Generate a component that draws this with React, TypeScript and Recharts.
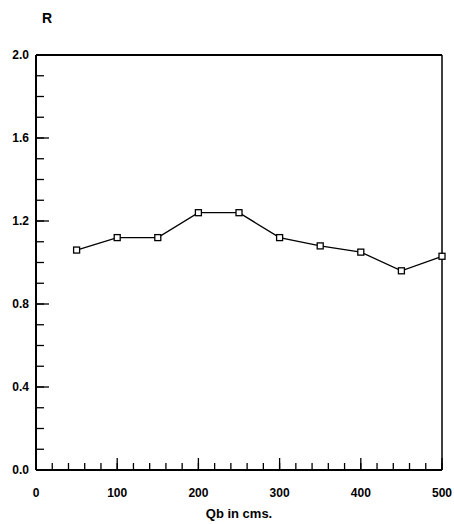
import { LineChart, Line, XAxis, YAxis, ReferenceLine, Label } from "recharts";

const qb = [50, 100, 150, 200, 250, 300, 350, 400, 450, 500];
const rValues = [1.06, 1.12, 1.12, 1.24, 1.24, 1.12, 1.08, 1.05, 0.96, 1.03];
const xTicks = [0, 100, 200, 300, 400, 500];
const xMinorTicks = Array.from({ length: 26 }, (_, i) => i * 20);
const yTicks = [0, 0.4, 0.8, 1.2, 1.6, 2.0];
const yMinorTicks = Array.from({ length: 21 }, (_, i) => i / 10);

const data = qb.map((q, i) => ({ qb: q, r: rValues[i] }));

const font = "'Liberation Sans', Arial, sans-serif";
const tickStyle = { fill: "#000", fontSize: 12, fontWeight: "bold", fontFamily: font };
const tickLine = { stroke: "#000", strokeWidth: 1.3 };
const noLabel = () => <g />;

const SquareDot = (props: any) => {
  const { cx, cy } = props;
  if (cx == null || cy == null) return null;
  return <rect x={cx - 3} y={cy - 3} width={6} height={6} fill="#fff" stroke="#000" strokeWidth={1.3} />;
};

export default function App() {
  return (
    <div style={{ position: "absolute", left: 0, top: 0, background: "#fff" }}>
      <LineChart
        width={454}
        height={524}
        data={data}
        margin={{ top: 55, right: 12, left: 0, bottom: 0 }}
      >
        {/* inward tick marks drawn by mirrored axes */}
        <XAxis
          xAxisId="minor"
          dataKey="qb"
          type="number"
          domain={[0, 500]}
          ticks={xMinorTicks}
          interval={0}
          mirror
          tick={noLabel}
          tickSize={6}
          axisLine={false}
          tickLine={tickLine}
          height={1}
        />
        <XAxis
          xAxisId="major"
          dataKey="qb"
          type="number"
          domain={[0, 500]}
          ticks={xTicks}
          interval={0}
          mirror
          tick={noLabel}
          tickSize={12}
          axisLine={false}
          tickLine={tickLine}
          height={1}
        />
        <XAxis
          dataKey="qb"
          type="number"
          domain={[0, 500]}
          ticks={xTicks}
          interval={0}
          tickSize={5}
          tickMargin={13}
          tick={tickStyle}
          axisLine={{ stroke: "#000", strokeWidth: 2 }}
          tickLine={false}
          height={54}
        >
          <Label
            value="Qb in cms."
            position="insideBottom"
            offset={6}
            fill="#000"
            fontSize={13}
            fontWeight="bold"
            fontFamily={font}
          />
        </XAxis>
        <YAxis
          yAxisId="minor"
          dataKey="r"
          type="number"
          domain={[0, 2]}
          ticks={yMinorTicks}
          interval={0}
          mirror
          tick={noLabel}
          tickSize={7}
          axisLine={false}
          tickLine={tickLine}
          width={1}
        />
        <YAxis
          yAxisId="major"
          dataKey="r"
          type="number"
          domain={[0, 2]}
          ticks={yTicks}
          interval={0}
          mirror
          tick={noLabel}
          tickSize={13}
          axisLine={false}
          tickLine={tickLine}
          width={1}
        />
        <YAxis
          type="number"
          domain={[0, 2]}
          ticks={yTicks}
          interval={0}
          tickFormatter={(v: number) => v.toFixed(1)}
          tickSize={5}
          tickMargin={2}
          tick={tickStyle}
          axisLine={{ stroke: "#000", strokeWidth: 2 }}
          tickLine={false}
          width={36}
        >
          <Label
            content={(p: any) => {
              const vb = p.viewBox || { x: 0, y: 55, width: 36 };
              return (
                <text
                  x={vb.x + vb.width + 11}
                  y={vb.y - 32}
                  textAnchor="middle"
                  fill="#000"
                  fontSize={14}
                  fontWeight="bold"
                  fontFamily={font}
                >
                  R
                </text>
              );
            }}
          />
        </YAxis>
        <ReferenceLine y={2} stroke="#000" strokeWidth={2} />
        <ReferenceLine x={500} stroke="#000" strokeWidth={1.5} />
        <Line
          dataKey="r"
          stroke="#000"
          strokeWidth={1.3}
          dot={<SquareDot />}
          activeDot={false}
          isAnimationActive={false}
        />
      </LineChart>
    </div>
  );
}
